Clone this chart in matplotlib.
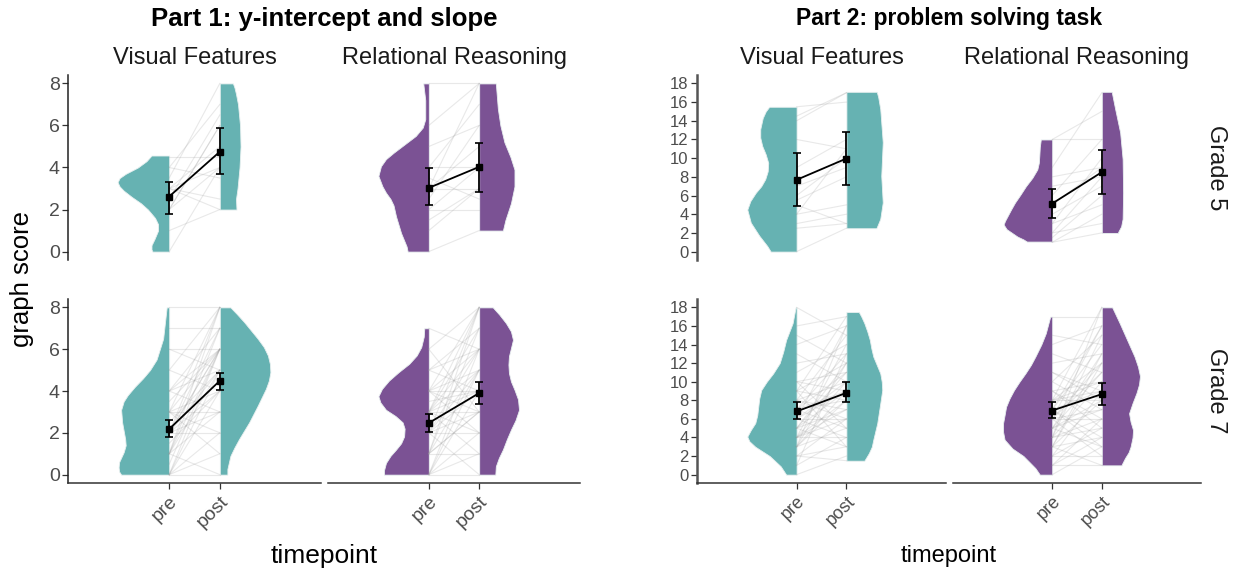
import numpy as np
import matplotlib
matplotlib.use('Agg')
import matplotlib.pyplot as plt

plt.rcParams['font.family'] = ['Liberation Sans', 'DejaVu Sans']

W, H = 1239, 571
TEAL = '#66b2b2'
PURPLE = '#7b5294'
GREY_TXT = '#4d4d4d'

# -----------------------------------------------------------------------------
# data
# -----------------------------------------------------------------------------

timepoints = ['pre', 'post']
strips = ['Visual Features', 'Relational Reasoning']
grades = ['Grade 5', 'Grade 7']
part_titles = ['Part 1: y-intercept and slope', 'Part 2: problem solving task']

# Part 1, grade 5, visual features
p1_g5_vf_pre = [0, 1, 2, 2, 3, 3, 3, 3.5, 4, 4, 4.5, 2.5, 3, 2]
p1_g5_vf_post = [4, 2, 4, 6, 2, 4, 5, 8, 7, 3.5, 4.5, 6.5, 2.5, 6]
p1_g5_vf_mean = [2.62, 4.75]
p1_g5_vf_lo = [1.80, 3.67]
p1_g5_vf_hi = [3.31, 5.90]
p1_g5_vf_pre_vy = [0, 0.1, 0.3, 0.6, 1.0, 1.3, 1.6, 2.0, 2.3, 2.6, 2.9, 3.1, 3.3, 3.5, 3.7, 4.0, 4.3, 4.57]
p1_g5_vf_pre_vw = [0.33, 0.35, 0.35, 0.29, 0.22, 0.22, 0.28, 0.42, 0.56, 0.74, 0.90, 0.98, 1.02, 0.98, 0.86, 0.62, 0.45, 0.35]
p1_g5_vf_post_vy = [2, 2.5, 3, 4, 5, 6, 7, 7.5, 7.8, 8]
p1_g5_vf_post_vw = [0.33, 0.32, 0.35, 0.39, 0.41, 0.40, 0.36, 0.32, 0.29, 0.26]

# Part 1, grade 5, relational reasoning
p1_g5_rr_pre = [0, 1, 2, 2, 2.5, 3, 3, 3, 3.5, 4, 4, 5, 6, 8, 1.5]
p1_g5_rr_post = [1, 3, 2, 4, 6, 3, 5, 8, 2.5, 4, 7, 6, 8, 8, 3]
p1_g5_rr_mean = [3.03, 4.03]
p1_g5_rr_lo = [2.20, 2.84]
p1_g5_rr_hi = [3.98, 5.18]
p1_g5_rr_pre_vy = [0, 0.24, 0.88, 1.67, 2.2, 2.5, 2.8, 3.1, 3.6, 4.06, 4.4, 4.7, 5.1, 5.5, 5.9, 6.3, 7.2, 8]
p1_g5_rr_pre_vw = [0.42, 0.44, 0.55, 0.65, 0.70, 0.76, 0.85, 0.92, 1.0, 0.95, 0.85, 0.70, 0.48, 0.26, 0.12, 0.07, 0.07, 0.11]
p1_g5_rr_post_vy = [1.0, 1.5, 2.3, 3.1, 3.9, 4.5, 5.2, 6.0, 6.8, 8]
p1_g5_rr_post_vw = [0.47, 0.52, 0.63, 0.70, 0.70, 0.62, 0.50, 0.42, 0.37, 0.33]

# Part 1, grade 7, visual features
p1_g7_vf_pre = [0, 0, 0, 0, 1, 1, 1, 1, 2, 2, 2, 2, 2, 3, 3, 3, 3, 4, 4, 4,
                5, 5, 6, 7, 8, 0, 1, 2, 3, 0.5, 1.5, 2.5, 3.5, 0, 2, 3, 4, 1, 2, 6]
p1_g7_vf_post = [0, 2, 4, 6, 3, 5, 6, 8, 2, 4, 5, 6, 7, 3, 4, 6, 8, 5, 6, 7,
                 4, 8, 5, 7, 8, 1, 0, 3, 2, 6, 4, 5, 6, 5, 8, 1, 3, 7, 6, 6]
p1_g7_vf_mean = [2.18, 4.49]
p1_g7_vf_lo = [1.78, 4.05]
p1_g7_vf_hi = [2.61, 4.86]
p1_g7_vf_pre_vy = [0, 0.15, 0.35, 0.6, 1.07, 1.4, 1.7, 2.1, 2.5, 3.1, 3.5, 3.8, 4.2, 4.6, 5.0, 5.5, 6.5, 8]
p1_g7_vf_pre_vw = [0.95, 0.99, 1.0, 0.99, 0.90, 0.86, 0.87, 0.90, 0.93, 0.95, 0.90, 0.82, 0.68, 0.52, 0.38, 0.25, 0.12, 0.05]
p1_g7_vf_post_vy = [0, 0.27, 0.9, 1.3, 1.7, 2.1, 2.5, 3.3, 4.1, 4.5, 4.9, 5.3, 5.7, 6.1, 6.5, 7.3, 7.7, 8]
p1_g7_vf_post_vw = [0.15, 0.15, 0.21, 0.29, 0.38, 0.48, 0.58, 0.75, 0.91, 0.97, 1.0, 0.99, 0.95, 0.87, 0.75, 0.48, 0.33, 0.21]

# Part 1, grade 7, relational reasoning
p1_g7_rr_pre = [0, 0, 0, 0, 1, 1, 1, 1, 2, 2, 2, 2, 3, 3, 3, 3, 3, 4, 4, 4,
                4, 5, 5, 6, 7, 0, 1, 2, 3, 4, 2, 3, 1, 0, 4, 5, 6, 3, 2, 3.5]
p1_g7_rr_post = [0, 2, 4, 6, 1, 3, 5, 7, 2, 4, 6, 8, 3, 4, 5, 7, 2, 3, 5, 6,
                 8, 4, 7, 8, 6, 1, 8, 3, 6, 4, 0, 1, 3, 5, 2, 6, 3, 8, 5, 4]
p1_g7_rr_mean = [2.47, 3.90]
p1_g7_rr_lo = [2.03, 3.38]
p1_g7_rr_hi = [2.92, 4.45]
p1_g7_rr_pre_vy = [0, 0.2, 0.56, 0.9, 1.2, 1.5, 1.83, 2.2, 2.5, 2.8, 3.1, 3.45, 3.75, 4.1, 4.5, 4.9, 5.3, 5.7, 6.1, 6.6, 7.0]
p1_g7_rr_pre_vw = [0.89, 0.89, 0.85, 0.76, 0.65, 0.55, 0.49, 0.48, 0.52, 0.66, 0.85, 0.96, 1.0, 0.93, 0.79, 0.60, 0.39, 0.24, 0.15, 0.10, 0.09]
p1_g7_rr_post_vy = [0, 0.4, 0.8, 1.2, 1.7, 2.15, 2.6, 3.1, 3.6, 4.06, 4.46, 4.86, 5.26, 5.66, 6.05, 6.45, 6.85, 7.25, 7.65, 8]
p1_g7_rr_post_vw = [0.32, 0.33, 0.39, 0.47, 0.55, 0.63, 0.72, 0.79, 0.77, 0.70, 0.63, 0.59, 0.58, 0.59, 0.63, 0.67, 0.63, 0.53, 0.40, 0.27]

# Part 2, grade 5, visual features
p2_g5_vf_pre = [0, 2.5, 3, 4, 4, 5, 5.5, 6, 7, 9, 12, 14, 15.5, 14.5]
p2_g5_vf_post = [2.5, 3, 4, 5, 11, 3, 8, 10, 9, 12, 11, 17, 16, 17]
p2_g5_vf_mean = [7.68, 9.96]
p2_g5_vf_lo = [4.90, 7.10]
p2_g5_vf_hi = [10.5, 12.8]
p2_g5_vf_pre_vy = [0, 0.6, 1.7, 3.1, 4.5, 5.4, 6.3, 7.0, 7.75, 8.6, 9.5, 10.4, 11.3, 12.2, 13.1, 14.3, 15.0, 15.5]
p2_g5_vf_pre_vw = [0.52, 0.59, 0.75, 0.92, 0.99, 0.93, 0.82, 0.71, 0.63, 0.58, 0.57, 0.62, 0.69, 0.73, 0.73, 0.68, 0.62, 0.55]
p2_g5_vf_post_vy = [2.5, 2.6, 3.5, 5.25, 8.1, 11.7, 15.25, 16.5, 17.1]
p2_g5_vf_post_vw = [0.60, 0.61, 0.68, 0.73, 0.70, 0.73, 0.68, 0.64, 0.61]

# Part 2, grade 5, relational reasoning
p2_g5_rr_pre = [1, 1, 1.5, 2, 2, 3, 3, 4, 5, 6, 7, 8, 9, 12, 12]
p2_g5_rr_post = [2, 4, 6, 3, 8, 5, 10, 7, 9, 12, 8, 9, 17, 12, 15]
p2_g5_rr_mean = [5.14, 8.50]
p2_g5_rr_lo = [3.64, 6.20]
p2_g5_rr_hi = [6.75, 10.9]
p2_g5_rr_pre_vy = [1.07, 1.3, 1.6, 2.0, 2.4, 2.9, 3.3, 3.8, 4.5, 5.25, 6.1, 7.0, 7.9, 8.8, 9.5, 10.25, 11.2, 12.0]
p2_g5_rr_pre_vw = [0.51, 0.58, 0.70, 0.81, 0.92, 0.98, 0.95, 0.90, 0.83, 0.75, 0.64, 0.53, 0.40, 0.30, 0.27, 0.26, 0.25, 0.23]
p2_g5_rr_post_vy = [2.0, 2.1, 2.7, 3.5, 6.3, 9.9, 12.75, 15.25, 17.1]
p2_g5_rr_post_vw = [0.33, 0.33, 0.39, 0.42, 0.43, 0.42, 0.37, 0.27, 0.20]

# Part 2, grade 7, visual features
p2_g7_vf_pre = [0, 1, 2, 2, 3, 3, 3, 4, 4, 4, 4, 5, 5, 5, 6, 6, 6, 7, 7, 7, 8, 8, 8, 9, 9,
                9, 10, 10, 11, 12, 13, 14, 15, 16, 18, 2, 3, 4, 5, 6, 7, 8, 9, 4, 5, 6, 3, 7, 10, 1]
p2_g7_vf_post = [2, 4, 3, 6, 5, 9, 12, 4, 8, 10, 14, 3, 7, 11, 6, 9, 16, 5, 8, 13, 7, 10, 15, 8, 12,
                 17, 9, 11, 14, 13, 10, 16, 12, 17, 15, 1.5, 8, 6, 9, 4, 11, 6, 3, 7, 12, 10, 16, 9, 5, 13]
p2_g7_vf_mean = [6.80, 8.80]
p2_g7_vf_lo = [5.98, 7.77]
p2_g7_vf_hi = [7.77, 10.0]
p2_g7_vf_pre_vy = [0, 0.9, 2.0, 3.0, 3.6, 4.1, 4.8, 5.55, 6.4, 7.3, 8.2, 9.1, 10.0, 10.9, 12.0, 13.2, 14.5, 16.3, 18]
p2_g7_vf_pre_vw = [0.21, 0.32, 0.54, 0.83, 0.95, 0.99, 0.92, 0.83, 0.79, 0.77, 0.75, 0.71, 0.60, 0.47, 0.34, 0.27, 0.21, 0.08, 0.02]
p2_g7_vf_post_vy = [1.5, 2.3, 3.0, 3.76, 5.55, 7.3, 9.1, 10.0, 10.9, 11.8, 12.7, 13.6, 14.5, 15.4, 16.3, 17.0, 17.5]
p2_g7_vf_post_vw = [0.36, 0.45, 0.51, 0.54, 0.62, 0.67, 0.72, 0.71, 0.68, 0.61, 0.54, 0.50, 0.47, 0.42, 0.36, 0.30, 0.25]

# Part 2, grade 7, relational reasoning
p2_g7_rr_pre = [0, 1, 1, 2, 2, 3, 3, 3, 4, 4, 4, 5, 5, 5, 6, 6, 6, 7, 7, 7, 8, 8, 8, 9, 9,
                10, 10, 11, 12, 13, 14, 15, 17, 3, 4, 5, 6, 7, 8, 2, 6, 9, 5, 4, 7, 11, 3, 8, 6, 1]
p2_g7_rr_post = [3, 1, 6, 2, 9, 4, 8, 12, 5, 10, 15, 3, 7, 13, 6, 11, 16, 4, 9, 14, 8, 12, 18, 5, 10,
                 7, 15, 9, 13, 11, 16, 14, 17, 1, 6, 8, 12, 3, 10, 5, 2, 6, 11, 18, 16, 8, 13, 9, 7, 4]
p2_g7_rr_mean = [6.90, 8.66]
p2_g7_rr_lo = [6.10, 7.48]
p2_g7_rr_hi = [7.77, 9.84]
p2_g7_rr_pre_vy = [0, 0.7, 1.3, 2.0, 2.8, 3.76, 4.6, 5.55, 6.4, 7.3, 8.2, 9.1, 10.0, 10.9, 11.8, 12.7, 14.0, 15.2, 16.2, 17.0]
p2_g7_rr_pre_vw = [0.25, 0.34, 0.45, 0.58, 0.80, 0.96, 0.99, 0.99, 0.96, 0.93, 0.86, 0.77, 0.66, 0.54, 0.43, 0.34, 0.22, 0.13, 0.08, 0.04]
p2_g7_rr_post_vy = [1.0, 1.07, 1.8, 2.4, 3.0, 4.0, 4.8, 5.7, 6.6, 7.7, 8.8, 9.7, 10.6, 11.6, 12.7, 14.5, 16.3, 18]
p2_g7_rr_post_vw = [0.40, 0.40, 0.47, 0.54, 0.58, 0.62, 0.63, 0.58, 0.55, 0.62, 0.70, 0.75, 0.77, 0.73, 0.66, 0.51, 0.36, 0.21]

# -----------------------------------------------------------------------------
# layout (pixel boxes of the panels)
# -----------------------------------------------------------------------------

col_x = [[(68, 321), (328, 580)], [(697, 946), (953, 1201)]]
row_y = [(75, 260), (299, 483)]


def px_axes(x0, x1, y0, y1):
    return fig.add_axes([x0 / W, 1 - y1 / H, (x1 - x0) / W, (y1 - y0) / H])


panels = [
    (0, 0, 0, TEAL, p1_g5_vf_pre, p1_g5_vf_post, p1_g5_vf_mean, p1_g5_vf_lo, p1_g5_vf_hi,
     p1_g5_vf_pre_vy, p1_g5_vf_pre_vw, p1_g5_vf_post_vy, p1_g5_vf_post_vw),
    (0, 0, 1, PURPLE, p1_g5_rr_pre, p1_g5_rr_post, p1_g5_rr_mean, p1_g5_rr_lo, p1_g5_rr_hi,
     p1_g5_rr_pre_vy, p1_g5_rr_pre_vw, p1_g5_rr_post_vy, p1_g5_rr_post_vw),
    (0, 1, 0, TEAL, p1_g7_vf_pre, p1_g7_vf_post, p1_g7_vf_mean, p1_g7_vf_lo, p1_g7_vf_hi,
     p1_g7_vf_pre_vy, p1_g7_vf_pre_vw, p1_g7_vf_post_vy, p1_g7_vf_post_vw),
    (0, 1, 1, PURPLE, p1_g7_rr_pre, p1_g7_rr_post, p1_g7_rr_mean, p1_g7_rr_lo, p1_g7_rr_hi,
     p1_g7_rr_pre_vy, p1_g7_rr_pre_vw, p1_g7_rr_post_vy, p1_g7_rr_post_vw),
    (1, 0, 0, TEAL, p2_g5_vf_pre, p2_g5_vf_post, p2_g5_vf_mean, p2_g5_vf_lo, p2_g5_vf_hi,
     p2_g5_vf_pre_vy, p2_g5_vf_pre_vw, p2_g5_vf_post_vy, p2_g5_vf_post_vw),
    (1, 0, 1, PURPLE, p2_g5_rr_pre, p2_g5_rr_post, p2_g5_rr_mean, p2_g5_rr_lo, p2_g5_rr_hi,
     p2_g5_rr_pre_vy, p2_g5_rr_pre_vw, p2_g5_rr_post_vy, p2_g5_rr_post_vw),
    (1, 1, 0, TEAL, p2_g7_vf_pre, p2_g7_vf_post, p2_g7_vf_mean, p2_g7_vf_lo, p2_g7_vf_hi,
     p2_g7_vf_pre_vy, p2_g7_vf_pre_vw, p2_g7_vf_post_vy, p2_g7_vf_post_vw),
    (1, 1, 1, PURPLE, p2_g7_rr_pre, p2_g7_rr_post, p2_g7_rr_mean, p2_g7_rr_lo, p2_g7_rr_hi,
     p2_g7_rr_pre_vy, p2_g7_rr_pre_vw, p2_g7_rr_post_vy, p2_g7_rr_post_vw),
]

# left half of the picture uses slightly bigger type than the right half
tick_size = [14, 12]
xtick_size = [14, 13]
strip_size = [17, 17]
title_size = [18.5, 16.5]
xlab_size = [19, 17]

fig = plt.figure(figsize=(W / 100, H / 100), dpi=100)

for part, row, col, colr, pre, post, mean, lo, hi, pvy, pvw, qvy, qvw in panels:
    x0, x1 = col_x[part][col]
    y0, y1 = row_y[row]
    ax = px_axes(x0, x1, y0, y1)
    ax.set_facecolor('none')

    # half violins, pre to the left of x=1, post to the right of x=2
    pvy, pvw = np.array(pvy), np.array(pvw)
    qvy, qvw = np.array(qvy), np.array(qvw)
    ax.fill_betweenx(pvy, 1 - pvw, 1, color=colr, lw=0.6, edgecolor='#e8f0f0', zorder=1)
    ax.fill_betweenx(qvy, 2, 2 + qvw, color=colr, lw=0.6, edgecolor='#e8f0f0', zorder=1)

    # individual participants
    for a, b in zip(pre, post):
        ax.plot([1, 2], [a, b], color='#9a9a9a', alpha=0.22, lw=0.8, zorder=2)

    # means with error bars
    mean = np.array(mean)
    err = [mean - np.array(lo), np.array(hi) - mean]
    ax.errorbar([1, 2], mean, yerr=err, fmt='s-', color='black', ms=4.5, lw=1.3,
                elinewidth=1.3, capsize=3, capthick=1.2, zorder=4)

    ax.set_xlim(-1, 4)
    if part == 0:
        ax.set_ylim(-0.4, 8.4)
        ax.set_yticks(range(0, 9, 2))
    else:
        ax.set_ylim(-0.9, 18.9)
        ax.set_yticks(range(0, 19, 2))

    for s in ['top', 'right']:
        ax.spines[s].set_visible(False)
    ax.spines['left'].set_visible(col == 0)
    ax.spines['bottom'].set_visible(row == 1)
    spine_lw = 1.1 if part == 0 else 1.8
    spine_c = '#222222' if part == 0 else '#555555'
    ax.spines['left'].set_linewidth(spine_lw)
    ax.spines['left'].set_color(spine_c)
    ax.spines['bottom'].set_linewidth(1.1)
    ax.spines['bottom'].set_color('#333333')

    ax.tick_params(axis='y', length=4 if col == 0 else 0, width=0.9, color='#333333',
                   labelsize=tick_size[part], labelcolor=GREY_TXT, pad=2, labelleft=(col == 0))
    ax.set_xticks([1, 2])
    if row == 1:
        ax.set_xticklabels(timepoints, rotation=45, ha='right', rotation_mode='anchor',
                           fontsize=xtick_size[part], color=GREY_TXT)
        ax.tick_params(axis='x', length=4, width=0.9, color='#333333', pad=3)
    else:
        ax.tick_params(axis='x', length=0, labelbottom=False)

# -----------------------------------------------------------------------------
# texts
# -----------------------------------------------------------------------------


def ftext(x, y, s, **kw):
    fig.text(x / W, 1 - y / H, s, ha='center', va='center', **kw)


for part in range(2):
    cx = (col_x[part][0][0] + col_x[part][1][1]) / 2
    ftext(cx, 19, part_titles[part], fontsize=title_size[part], fontweight='bold', color='black')
    for col in range(2):
        sx = sum(col_x[part][col]) / 2
        ftext(sx, 58, strips[col], fontsize=strip_size[part], color='#1a1a1a')
    ftext(cx, 556, 'timepoint', fontsize=xlab_size[part], color='black')

for row in range(2):
    ftext(1216, sum(row_y[row]) / 2, grades[row], fontsize=17, rotation=-90, color='#1a1a1a')

ftext(22, 279, 'graph score', fontsize=18.5, rotation=90, color='black')

fig.savefig('out.png', dpi=100)
